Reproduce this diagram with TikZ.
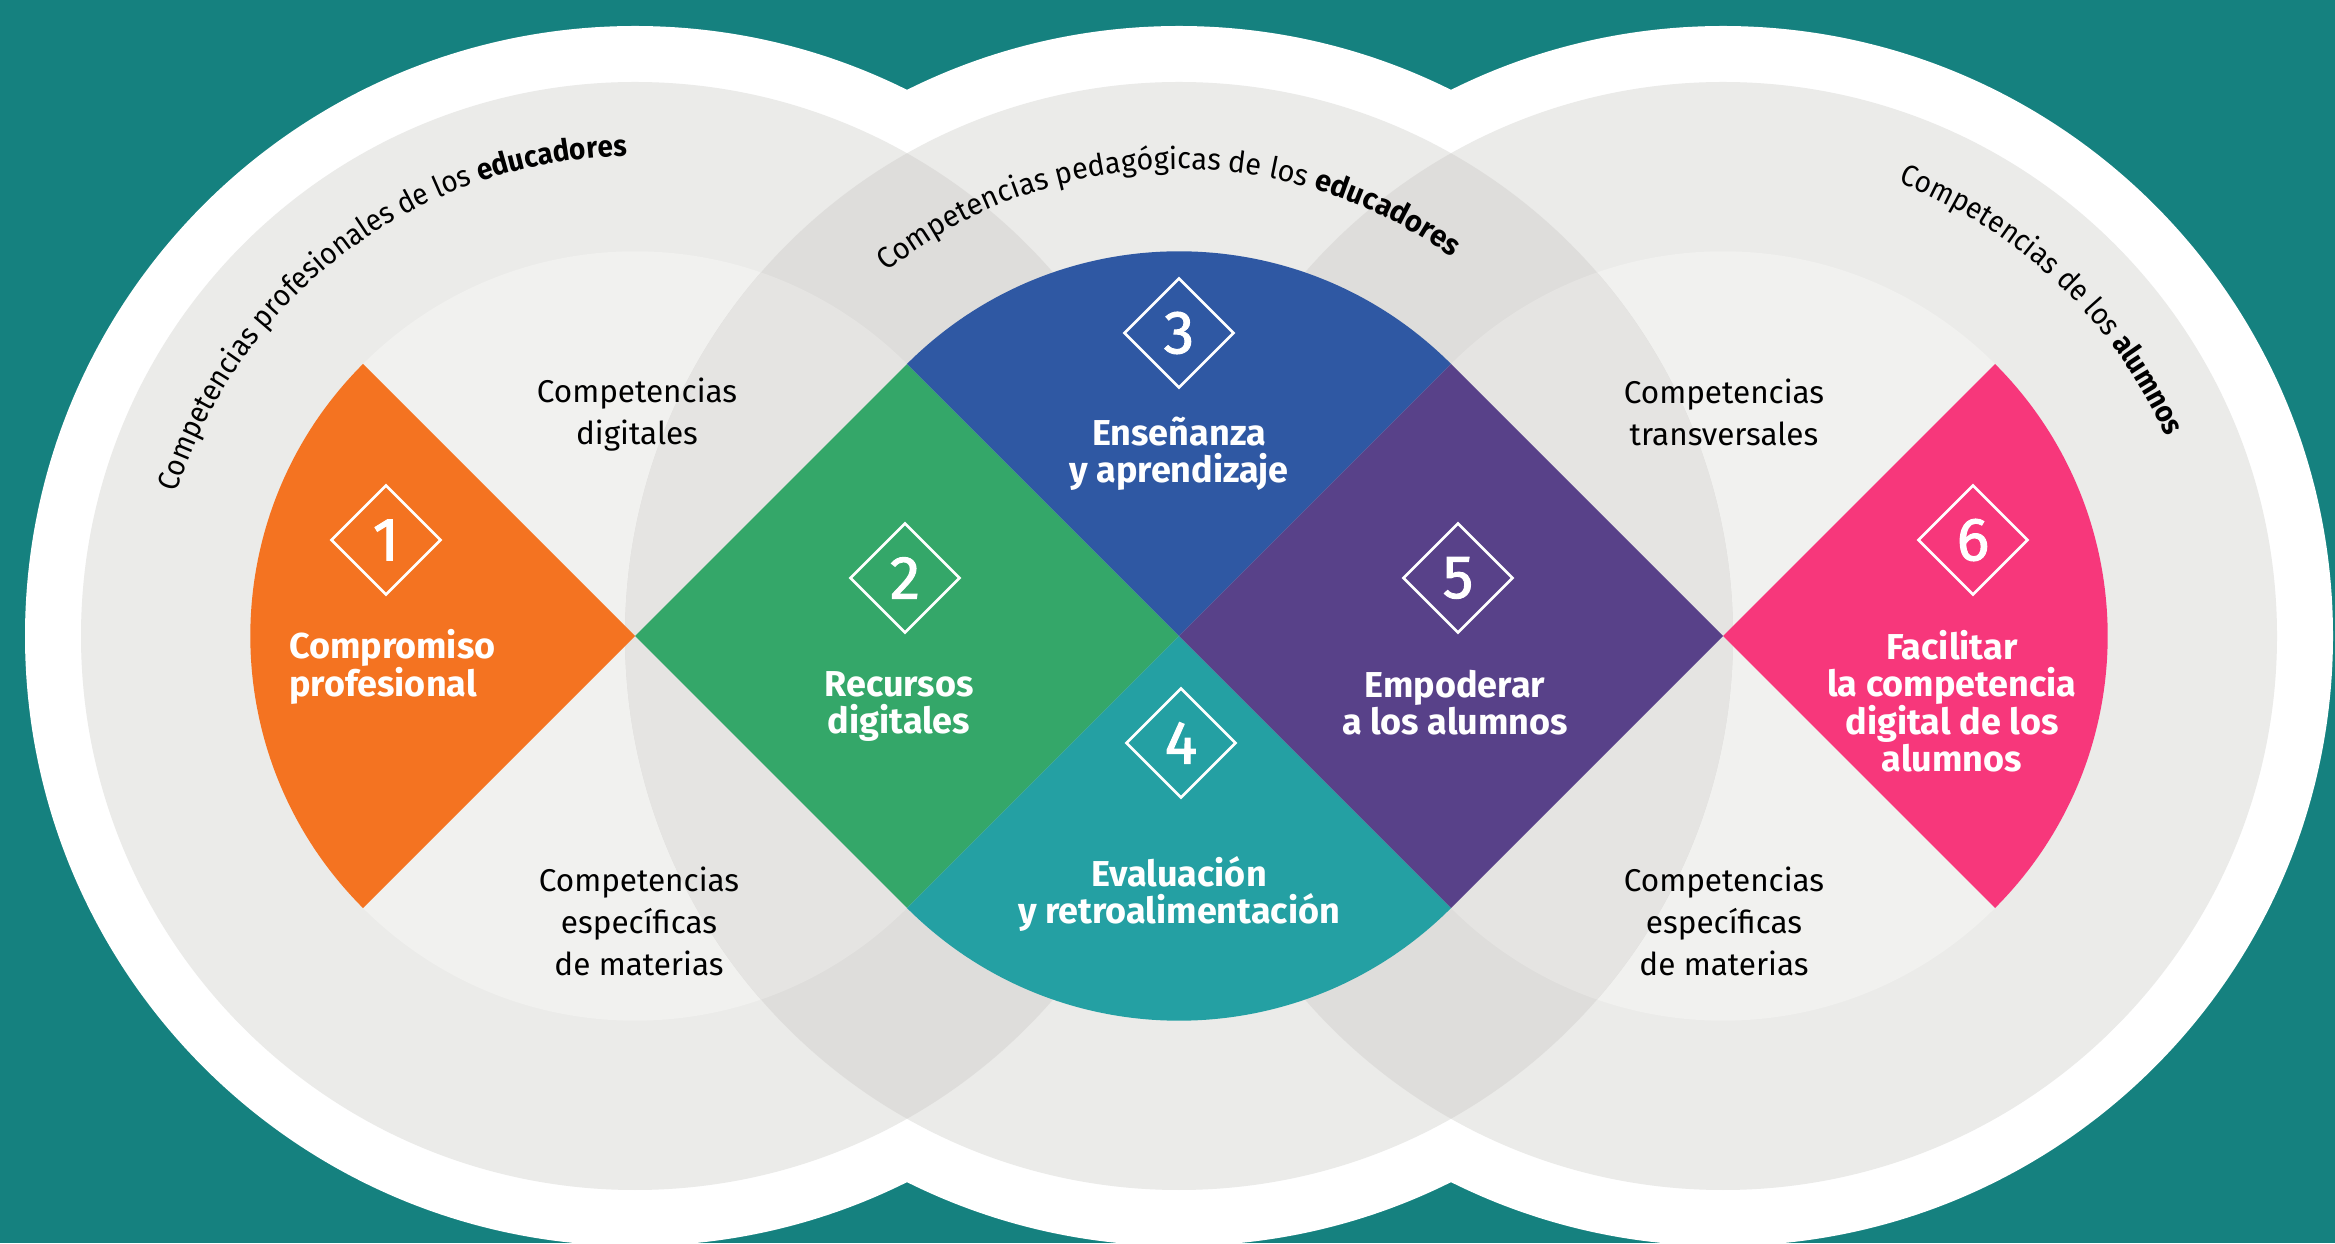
\documentclass[tikz,border=0pt]{standalone}
\usepackage{fontspec}
\setmainfont{Fira Sans}
\newfontfamily\arcfamA{Fira Sans}[FakeStretch=0.93]
\newfontfamily\arcfamB{Fira Sans}[FakeStretch=0.965]
\newfontfamily\numfam{Fira Sans}[FakeBold=1.6]
\usetikzlibrary{shapes.geometric,decorations.text}
\definecolor{bgteal}{HTML}{15817F}
\definecolor{ringgray}{HTML}{EBEBE9}
\definecolor{innergray}{HTML}{F1F1EF}
\definecolor{overgray}{HTML}{DEDDDB}
\definecolor{midgray}{HTML}{E5E4E2}
\definecolor{corange}{HTML}{F47321}
\definecolor{cgreen}{HTML}{34A769}
\definecolor{cblue}{HTML}{2F58A3}
\definecolor{cteal}{HTML}{24A0A3}
\definecolor{cpurple}{HTML}{584189}
\definecolor{cpink}{HTML}{F7377B}
\newcommand\arcfmtA{\arcfamA\fontsize{30}{36}\selectfont}
\newcommand\arcfmtB{\arcfamB\fontsize{30}{36}\selectfont}
\tikzset{
  numbox/.style={shape=diamond, draw=white, line width=2.6pt, minimum width=110pt,
    minimum height=110pt, inner sep=0pt, text=white, font=\numfam\fontsize{61}{61}\selectfont},
  wlabel/.style={text=white, font=\fontsize{36}{37}\selectfont\bfseries, align=center,
    anchor=base, inner sep=0pt},
  blabel/.style={text=black, font=\fontsize{31.5}{42}\selectfont, align=center,
    anchor=base, inner sep=0pt},
}
\begin{document}
\begin{tikzpicture}[x=1pt,y=1pt]
\useasboundingbox (0,0) rectangle (2335,1243);
\fill[bgteal] (0,0) rectangle (2335,1243);
\coordinate (c1) at (635,607);
\coordinate (c2) at (1179,607);
\coordinate (c3) at (1723,607);
\def\rr{384.7}
% outer white and gray discs
\foreach \c in {c1,c2,c3} \fill[white] (\c) circle[radius=610];
\foreach \c in {c1,c2,c3} \fill[ringgray] (\c) circle[radius=554];
\fill[innergray] (c1) circle[radius=\rr];
\fill[innergray] (c3) circle[radius=\rr];
\begin{scope}
  \clip (c2) circle[radius=554];
  \fill[overgray] (c1) circle[radius=554];
  \fill[overgray] (c3) circle[radius=554];
  \fill[midgray] (c1) circle[radius=\rr];
  \fill[midgray] (c3) circle[radius=\rr];
\end{scope}
% coloured sectors and diamonds
\fill[corange] (c1) -- ++(135:\rr) arc[start angle=135,end angle=225,radius=\rr] -- cycle;
\fill[cgreen] (c1) -- ++(272,272) -- (c2) -- ++(-272,-272) -- cycle;
\fill[cblue] (c2) -- ++(45:\rr) arc[start angle=45,end angle=135,radius=\rr] -- cycle;
\fill[cteal] (c2) -- ++(225:\rr) arc[start angle=225,end angle=315,radius=\rr] -- cycle;
\fill[cpurple] (c2) -- ++(272,272) -- (c3) -- ++(-272,-272) -- cycle;
\fill[cpink] (c3) -- ++(-45:\rr) arc[start angle=-45,end angle=45,radius=\rr] -- cycle;
% number diamonds
\node[numbox] (n1) at (386,703) {1};
\node[numbox] (n2) at (905,665) {2};
\node[numbox] (n3) at (1179,910) {3};
\node[numbox] (n4) at (1181,500) {4};
\node[numbox] (n5) at (1458,665) {5};
\node[numbox] (n6) at (1973,703) {6};
% white labels (anchor = baseline of last line)
\node[wlabel, anchor=base west, align=left] (l1) at (289,546.5) {Compromiso\\profesional};
\node[wlabel] (l2) at (899,509) {Recursos\\digitales};
\node[wlabel] (l3) at (1179,760.5) {Enseñanza\\y aprendizaje};
\node[wlabel] (l4) at (1179,319) {Evaluación\\y retroalimentación};
\node[wlabel] (l5) at (1455,508) {Empoderar\\a los alumnos};
\node[wlabel] (l6) at (1952,471) {Facilitar\\la competencia\\digital de los\\alumnos};
% black labels
\node[blabel] (b1) at (637,798) {Competencias\\digitales};
\node[blabel] (b2) at (639,267) {Competencias\\específicas\\de materias};
\node[blabel] (b3) at (1724,797) {Competencias\\transversales};
\node[blabel] (b4) at (1724,267) {Competencias\\específicas\\de materias};
% curved titles
\path[decorate, decoration={text along path, text align=center,
  text={|\arcfmtA|Competencias profesionales de los |\arcfmtA\bfseries|educadores}}]
  ([shift={(176.8:480)}]c1) arc[start angle=176.8, end angle=76.8, radius=480];
\path[decorate, decoration={text along path, text align=center,
  text={|\arcfmtB|Competencias pedagógicas de los |\arcfmtB\bfseries|educadores}}]
  ([shift={(141.5:467)}]c2) arc[start angle=141.5, end angle=41.5, radius=467];
\path[decorate, decoration={text along path, text align=center,
  text={|\arcfmtA|Competencias de los |\arcfmtA\bfseries|alumnos}}]
  ([shift={(96.5:486)}]c3) arc[start angle=96.5, end angle=-3.5, radius=486];
\end{tikzpicture}
\end{document}
